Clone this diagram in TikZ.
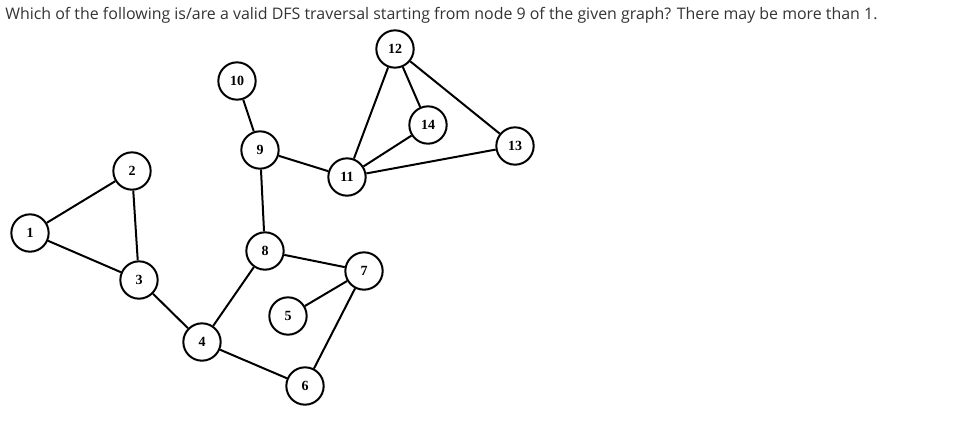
\documentclass[tikz,border=0pt]{standalone}
\usepackage{fontspec}
\newfontfamily\qfont{Open Sans}
\newfontfamily\vfont{Liberation Serif}
\usepackage{tikz}
\usetikzlibrary{positioning}
\definecolor{ink}     {HTML}{000000}
\definecolor{softink} {HTML}{333333}
\tikzset{
  % --- nodes
  vtx/.style   = {circle, draw=ink, fill=white, line width=1.5pt, minimum size=28pt,
                  inner sep=0pt, font=\vfont\fontsize{10.5}{10.5}\selectfont\bfseries},
  ask/.style   = {anchor=base west, inner sep=0pt, text=softink,
                  font=\qfont\fontsize{11.95}{12}\selectfont},
  % --- edges
  e/.style     = {draw=ink, line width=1.5pt},
}

\begin{document}
\begin{tikzpicture}[x=0.75pt,y=-0.75pt]
  \useasboundingbox (0,0) rectangle (956,436);
  % question
  \node[ask] (question) at (5,19) {Which of the following is/are a valid DFS traversal starting from node 9 of the given graph? There may be more than 1.};

  % vertices
  \foreach \vn/\vx/\vy in {1/30/233, 2/132/171, 3/139/280, 4/202/342, 5/288/316,
                           6/305/386, 7/364/271, 8/265/251, 9/260/150, 10/237/81,
                           11/347/177, 12/395/49, 13/515/146, 14/428/125}
    \node[vtx] (v\vn) at (\vx,\vy) {\vn};

  % edges
  \foreach \ea/\eb in {1/2, 1/3, 2/3, 3/4, 4/8, 4/6, 8/9, 9/10, 9/11, 8/7,
                       7/5, 7/6, 11/12, 11/14, 11/13, 12/14, 12/13}
    \draw[e] (v\ea) -- (v\eb);
\end{tikzpicture}
\end{document}
